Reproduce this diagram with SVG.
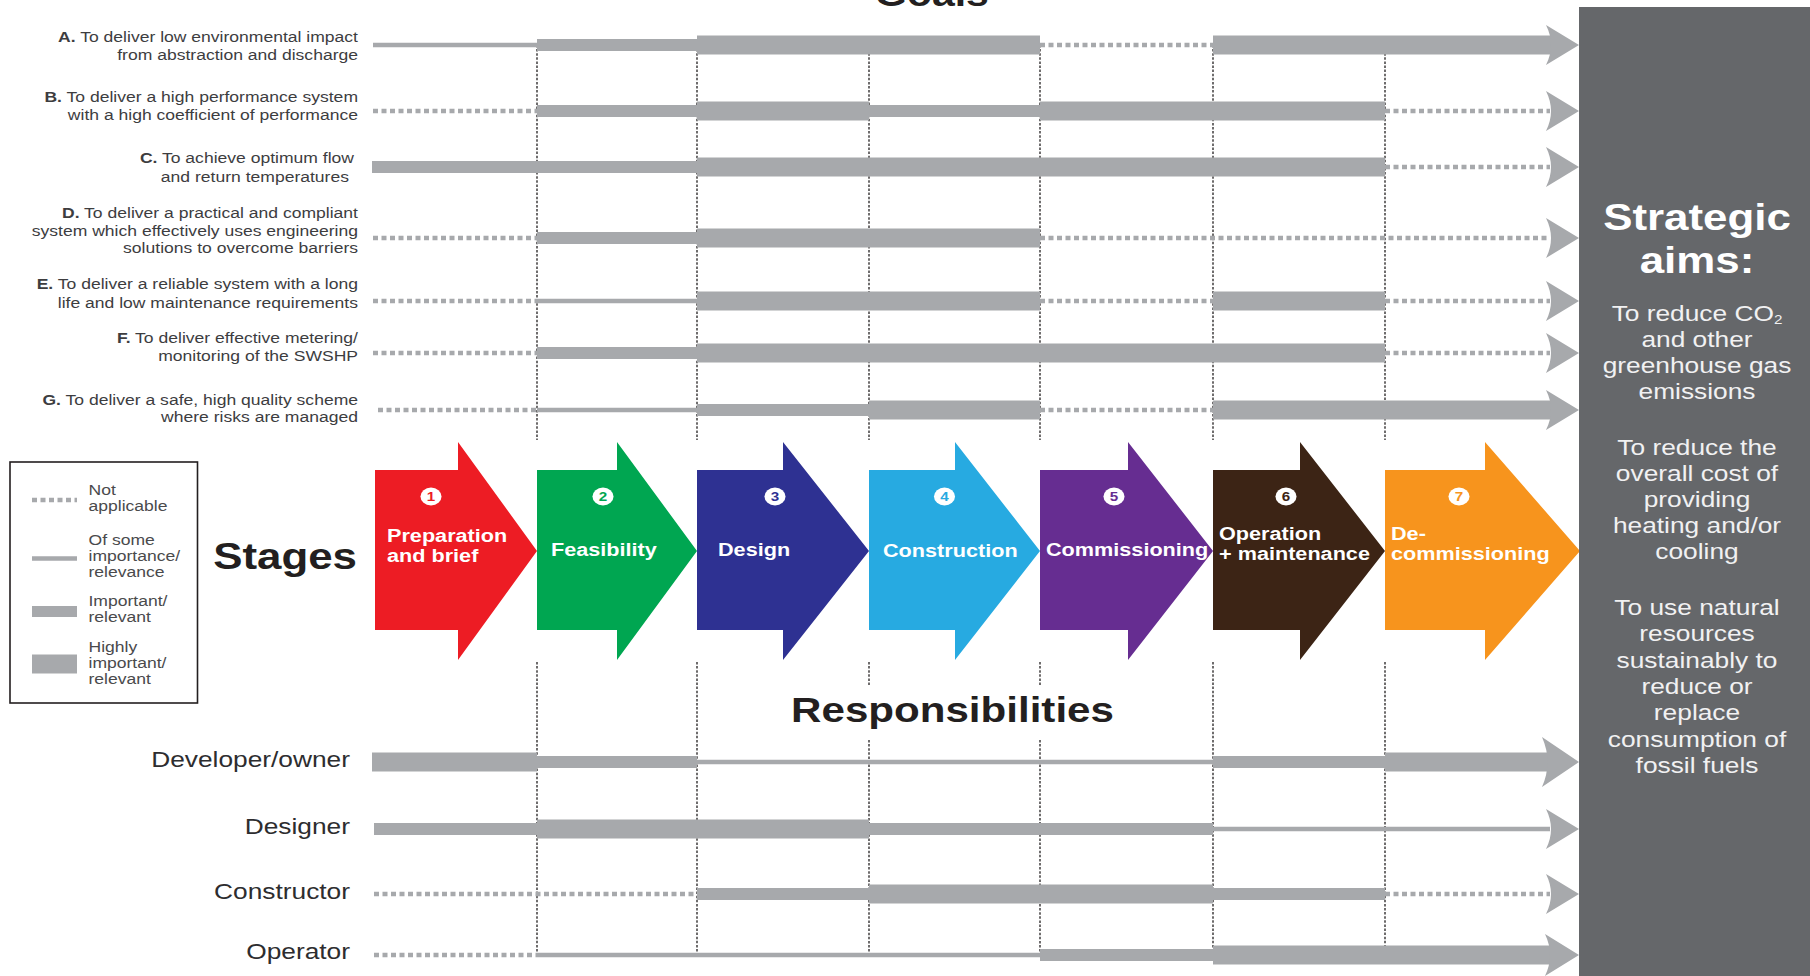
<svg xmlns="http://www.w3.org/2000/svg" width="1810" height="976" viewBox="0 0 1810 976">
<style>
text{font-family:"Liberation Sans",Arial,Helvetica,sans-serif}
.gl{font-size:15px;fill:#3d3d3f;text-anchor:end}
.lg{font-size:15px;fill:#4a4a4c}
.rl{font-size:22.5px;fill:#2d2d2f;text-anchor:end}
.st{font-size:18.5px;font-weight:bold;fill:#fff}
.num{font-size:13px;font-weight:bold;text-anchor:middle}
.hd{font-weight:bold;fill:#231f20}
.aim{font-size:22.5px;fill:#f1f1f2;text-anchor:middle}
.aimh{font-size:37.5px;font-weight:bold;fill:#fff;text-anchor:middle}
.thin{stroke:#a7a9ac;stroke-width:4.5;fill:none}
.dot{stroke:#a7a9ac;stroke-width:4.5;stroke-dasharray:5 3.5;fill:none}
.bar{fill:#a7a9ac}
.vl{stroke:#231f20;stroke-width:1.3;stroke-dasharray:2.5 1.6;fill:none}
.circ{fill:#fff}
</style>
<rect width="1810" height="976" fill="#fff"/>

<g id="title-goals">
<text class="hd" font-size="35" text-anchor="middle" transform="translate(932 6) scale(1.17 1)">Goals</text>
</g>

<g id="dividers">
<path class="vl" d="M537,45V440M697,45V440M869,45V440M1040,45V440M1213,45V440M1385,45V440"/>
<path class="vl" d="M537,662V955M697,662V955M869,662V686M869,740V955M1040,662V686M1040,740V955M1213,662V955M1385,662V950"/>
</g>

<g id="connectors">
<!-- A -->
<line class="thin" x1="373" y1="45" x2="537" y2="45"/>
<rect class="bar" x="537" y="39" width="160" height="12"/>
<rect class="bar" x="697" y="35.5" width="343" height="19"/>
<line class="dot" x1="1040" y1="45" x2="1213" y2="45"/>
<rect class="bar" x="1213" y="35.5" width="343" height="19"/>
<path class="bar" d="M1546,25L1579,45L1546,65Q1556,45 1546,25Z"/>
<!-- B -->
<line class="dot" x1="373" y1="111" x2="537" y2="111"/>
<rect class="bar" x="537" y="105" width="160" height="12"/>
<rect class="bar" x="697" y="101.5" width="172" height="19"/>
<rect class="bar" x="869" y="105" width="171" height="12"/>
<rect class="bar" x="1040" y="101.5" width="345" height="19"/>
<line class="dot" x1="1385" y1="111" x2="1550" y2="111"/>
<path class="bar" d="M1546,91L1579,111L1546,131Q1556,111 1546,91Z"/>
<!-- C -->
<rect class="bar" x="372" y="161" width="325" height="12"/>
<rect class="bar" x="697" y="157.5" width="688" height="19"/>
<line class="dot" x1="1385" y1="167" x2="1550" y2="167"/>
<path class="bar" d="M1546,147L1579,167L1546,187Q1556,167 1546,147Z"/>
<!-- D -->
<line class="dot" x1="373" y1="238" x2="537" y2="238"/>
<rect class="bar" x="537" y="232" width="160" height="12"/>
<rect class="bar" x="697" y="228.5" width="343" height="19"/>
<line class="dot" x1="1040" y1="238" x2="1550" y2="238"/>
<path class="bar" d="M1546,218L1579,238L1546,258Q1556,238 1546,218Z"/>
<!-- E -->
<line class="dot" x1="373" y1="301" x2="537" y2="301"/>
<line class="thin" x1="537" y1="301" x2="697" y2="301"/>
<rect class="bar" x="697" y="291.5" width="343" height="19"/>
<line class="dot" x1="1040" y1="301" x2="1213" y2="301"/>
<rect class="bar" x="1213" y="291.5" width="172" height="19"/>
<line class="dot" x1="1385" y1="301" x2="1550" y2="301"/>
<path class="bar" d="M1546,281L1579,301L1546,321Q1556,301 1546,281Z"/>
<!-- F -->
<line class="dot" x1="373" y1="353" x2="537" y2="353"/>
<rect class="bar" x="537" y="347" width="160" height="12"/>
<rect class="bar" x="697" y="343.5" width="688" height="19"/>
<line class="dot" x1="1385" y1="353" x2="1550" y2="353"/>
<path class="bar" d="M1546,333L1579,353L1546,373Q1556,353 1546,333Z"/>
<!-- G -->
<line class="dot" x1="378" y1="410" x2="537" y2="410"/>
<line class="thin" x1="537" y1="410" x2="697" y2="410"/>
<rect class="bar" x="697" y="404" width="172" height="12"/>
<rect class="bar" x="869" y="400.5" width="171" height="19"/>
<line class="dot" x1="1040" y1="410" x2="1213" y2="410"/>
<rect class="bar" x="1213" y="400.5" width="343" height="19"/>
<path class="bar" d="M1546,390L1579,410L1546,430Q1556,410 1546,390Z"/>
<!-- Developer -->
<rect class="bar" x="372" y="752.5" width="165" height="19"/>
<rect class="bar" x="537" y="756" width="160" height="12"/>
<line class="thin" x1="697" y1="762" x2="1213" y2="762"/>
<rect class="bar" x="1213" y="756" width="172" height="12"/>
<rect class="bar" x="1385" y="752.5" width="171" height="19"/>
<path class="bar" d="M1542,737L1579,762L1542,787Q1553,762 1542,737Z"/>
<!-- Designer -->
<rect class="bar" x="374" y="823" width="163" height="12"/>
<rect class="bar" x="537" y="819.5" width="332" height="19"/>
<rect class="bar" x="869" y="823" width="344" height="12"/>
<line class="thin" x1="1213" y1="829" x2="1550" y2="829"/>
<path class="bar" d="M1546,809L1579,829L1546,849Q1556,829 1546,809Z"/>
<!-- Constructor -->
<line class="dot" x1="374" y1="894" x2="697" y2="894"/>
<rect class="bar" x="697" y="888" width="172" height="12"/>
<rect class="bar" x="869" y="884.5" width="344" height="19"/>
<rect class="bar" x="1213" y="888" width="172" height="12"/>
<line class="dot" x1="1385" y1="894" x2="1550" y2="894"/>
<path class="bar" d="M1546,874L1579,894L1546,914Q1556,894 1546,874Z"/>
<!-- Operator -->
<line class="dot" x1="374" y1="955" x2="537" y2="955"/>
<line class="thin" x1="537" y1="955" x2="1040" y2="955"/>
<rect class="bar" x="1040" y="949" width="173" height="12"/>
<rect class="bar" x="1213" y="945.5" width="343" height="19"/>
<path class="bar" d="M1545,934L1579,955L1545,976Q1555,955 1545,934Z"/>
</g>

<g id="goal-A"><text class="gl" transform="translate(358 0) scale(1.17 1)"><tspan x="0" y="41.7"><tspan font-weight="bold">A.</tspan> To deliver low environmental impact</tspan><tspan x="0" y="59.7">from abstraction and discharge</tspan></text></g>
<g id="goal-B"><text class="gl" transform="translate(358 0) scale(1.17 1)"><tspan x="0" y="101.7"><tspan font-weight="bold">B.</tspan> To deliver a high performance system</tspan><tspan x="0" y="119.7">with a high coefficient of performance</tspan></text></g>
<g id="goal-C"><text class="gl" transform="translate(354 163.3) scale(1.17 1)"><tspan font-weight="bold">C.</tspan> To achieve optimum flow</text><text class="gl" transform="translate(349 181.5) scale(1.17 1)">and return temperatures</text></g>
<g id="goal-D"><text class="gl" transform="translate(358 0) scale(1.17 1)"><tspan x="0" y="218.3"><tspan font-weight="bold">D.</tspan> To deliver a practical and compliant</tspan><tspan x="0" y="236">system which effectively uses engineering</tspan><tspan x="0" y="253.5">solutions to overcome barriers</tspan></text></g>
<g id="goal-E"><text class="gl" transform="translate(358 0) scale(1.17 1)"><tspan x="0" y="289.5"><tspan font-weight="bold">E.</tspan> To deliver a reliable system with a long</tspan><tspan x="0" y="307.8">life and low maintenance requirements</tspan></text></g>
<g id="goal-F"><text class="gl" transform="translate(358 0) scale(1.17 1)"><tspan x="0" y="343"><tspan font-weight="bold">F.</tspan> To deliver effective metering/</tspan><tspan x="0" y="360.8">monitoring of the SWSHP</tspan></text></g>
<g id="goal-G"><text class="gl" transform="translate(358 0) scale(1.17 1)"><tspan x="0" y="405"><tspan font-weight="bold">G.</tspan> To deliver a safe, high quality scheme</tspan><tspan x="0" y="422.5">where risks are managed</tspan></text></g>

<g id="legend">
<rect x="10" y="462" width="187.5" height="241" fill="#fff" stroke="#231f20" stroke-width="1.6"/>
<line class="dot" x1="32" y1="500" x2="77" y2="500"/>
<line class="thin" x1="32" y1="558.5" x2="77" y2="558.5"/>
<rect class="bar" x="32" y="606" width="45" height="11"/>
<rect class="bar" x="32" y="654.5" width="45" height="19"/>
<text class="lg" transform="translate(88.5 0) scale(1.17 1)"><tspan x="0" y="495">Not</tspan><tspan x="0" y="511">applicable</tspan><tspan x="0" y="545">Of some</tspan><tspan x="0" y="561">importance/</tspan><tspan x="0" y="577">relevance</tspan><tspan x="0" y="606">Important/</tspan><tspan x="0" y="622">relevant</tspan><tspan x="0" y="652">Highly</tspan><tspan x="0" y="668">important/</tspan><tspan x="0" y="684">relevant</tspan></text>
</g>

<g id="title-stages"><text class="hd" font-size="37.5" text-anchor="end" transform="translate(357 569) scale(1.17 1)">Stages</text></g>

<g id="stage-1">
<polygon fill="#ed1c24" points="375,470 458,470 458,442 537,551 458,660 458,630 375,630"/>
<g transform="translate(431 496.5) scale(1.17 1)"><circle class="circ" r="9"/><text class="num" y="4.6" fill="#ed1c24">1</text></g>
<text class="st" transform="translate(387 0) scale(1.17 1)"><tspan x="0" y="542">Preparation</tspan><tspan x="0" y="562">and brief</tspan></text>
</g>
<g id="stage-2">
<polygon fill="#00a651" points="537,470 617,470 617,442 697,551 617,660 617,630 537,630"/>
<g transform="translate(603 496.5) scale(1.17 1)"><circle class="circ" r="9"/><text class="num" y="4.6" fill="#00a651">2</text></g>
<text class="st" transform="translate(551 556) scale(1.17 1)">Feasibility</text>
</g>
<g id="stage-3">
<polygon fill="#2e3192" points="697,470 783,470 783,442 869,551 783,660 783,630 697,630"/>
<g transform="translate(775 496.5) scale(1.17 1)"><circle class="circ" r="9"/><text class="num" y="4.6" fill="#2e3192">3</text></g>
<text class="st" transform="translate(718 556) scale(1.17 1)">Design</text>
</g>
<g id="stage-4">
<polygon fill="#27aae1" points="869,470 955,470 955,442 1040,551 955,660 955,630 869,630"/>
<g transform="translate(944.5 496.5) scale(1.17 1)"><circle class="circ" r="9"/><text class="num" y="4.6" fill="#27aae1">4</text></g>
<text class="st" transform="translate(883 557) scale(1.17 1)">Construction</text>
</g>
<g id="stage-5">
<polygon fill="#662d91" points="1040,470 1128,470 1128,442 1213,551 1128,660 1128,630 1040,630"/>
<g transform="translate(1114 496.5) scale(1.17 1)"><circle class="circ" r="9"/><text class="num" y="4.6" fill="#662d91">5</text></g>
<text class="st" transform="translate(1046 556) scale(1.17 1)">Commissioning</text>
</g>
<g id="stage-6">
<polygon fill="#3c2415" points="1213,470 1300,470 1300,442 1385,551 1300,660 1300,630 1213,630"/>
<g transform="translate(1286 496.5) scale(1.17 1)"><circle class="circ" r="9"/><text class="num" y="4.6" fill="#3c2415">6</text></g>
<text class="st" transform="translate(1219 0) scale(1.17 1)"><tspan x="0" y="540">Operation</tspan><tspan x="0" y="560">+ maintenance</tspan></text>
</g>
<g id="stage-7">
<polygon fill="#f7941d" points="1385,470 1485,470 1485,442 1580,551 1485,660 1485,630 1385,630"/>
<g transform="translate(1459 496.5) scale(1.17 1)"><circle class="circ" r="9"/><text class="num" y="4.6" fill="#f7941d">7</text></g>
<text class="st" transform="translate(1391 0) scale(1.17 1)"><tspan x="0" y="540">De-</tspan><tspan x="0" y="560">commissioning</tspan></text>
</g>

<g id="strategic-aims">
<rect x="1579" y="7" width="231" height="969" fill="#65676a"/>
<text class="aimh" transform="translate(1697 0) scale(1.17 1)"><tspan x="0" y="230">Strategic</tspan><tspan x="0" y="273">aims:</tspan></text>
<text class="aim" transform="translate(1697 0) scale(1.17 1)"><tspan x="0" y="321">To reduce CO<tspan font-size="13" dy="3">2</tspan></tspan><tspan x="0" y="347">and other</tspan><tspan x="0" y="373">greenhouse gas</tspan><tspan x="0" y="399">emissions</tspan><tspan x="0" y="455">To reduce the</tspan><tspan x="0" y="481">overall cost of</tspan><tspan x="0" y="507">providing</tspan><tspan x="0" y="533">heating and/or</tspan><tspan x="0" y="559">cooling</tspan><tspan x="0" y="615">To use natural</tspan><tspan x="0" y="641.5">resources</tspan><tspan x="0" y="668">sustainably to</tspan><tspan x="0" y="694">reduce or</tspan><tspan x="0" y="720.5">replace</tspan><tspan x="0" y="747">consumption of</tspan><tspan x="0" y="773">fossil fuels</tspan></text>
</g>

<g id="title-responsibilities"><text class="hd" font-size="36" text-anchor="middle" transform="translate(952.5 722) scale(1.17 1)">Responsibilities</text></g>

<g id="resp-developer"><text class="rl" transform="translate(350 767) scale(1.17 1)">Developer/owner</text></g>
<g id="resp-designer"><text class="rl" transform="translate(350 834) scale(1.17 1)">Designer</text></g>
<g id="resp-constructor"><text class="rl" transform="translate(350 898.5) scale(1.17 1)">Constructor</text></g>
<g id="resp-operator"><text class="rl" transform="translate(350 958.5) scale(1.17 1)">Operator</text></g>
</svg>
